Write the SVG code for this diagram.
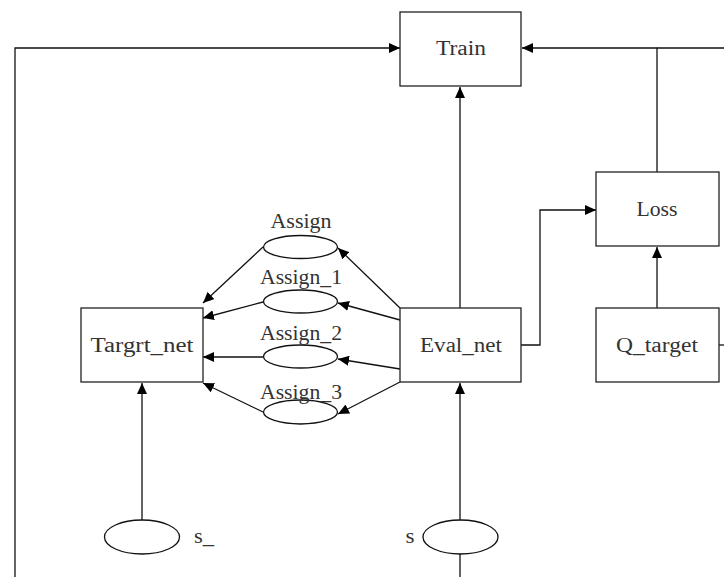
<svg xmlns="http://www.w3.org/2000/svg" width="724" height="577" viewBox="0 0 724 577">
  <style>
    .box { fill: #ffffff; stroke: #222222; stroke-width: 1.3; }
    .ell { fill: #ffffff; stroke: #111111; stroke-width: 1.3; }
    .wire { fill: none; stroke: #111111; stroke-width: 1.3; }
    .arr { marker-end: url(#head); }
    text { font-family: "Liberation Serif", "DejaVu Serif", serif; font-size: 20px; fill: #333333; text-anchor: middle; }
  </style>
  <defs>
    <marker id="head" markerUnits="userSpaceOnUse" markerWidth="12" markerHeight="10" refX="11" refY="5" orient="auto">
      <path d="M0,0 L11,5 L0,10 Z" fill="#000000"/>
    </marker>
  </defs>
  <rect width="724" height="577" fill="#ffffff"/>

  <g id="connectors">
    <path class="wire arr" d="M15,577 V48 H400"/>
    <path class="wire" d="M724,48 H657"/>
    <path class="wire arr" d="M657,172 V48 H522"/>
    <path class="wire arr" d="M460,308 V87"/>
    <path class="wire arr" d="M521,345 H540 V210 H596"/>
    <path class="wire arr" d="M657,308 V247"/>
    <path class="wire" d="M719,345 H724"/>
    <path class="wire arr" d="M142,520 V383"/>
    <path class="wire arr" d="M460,520 V383"/>
    <path class="wire" d="M460,554 V577"/>
    <path class="wire arr" d="M400,308 L338,248"/>
    <path class="wire arr" d="M400,320 L338,303"/>
    <path class="wire arr" d="M400,369 L338,359"/>
    <path class="wire arr" d="M400,382 L338,414"/>
    <path class="wire arr" d="M263,247 L203,303"/>
    <path class="wire arr" d="M263,302 L203,318"/>
    <path class="wire arr" d="M263,357 L203,357"/>
    <path class="wire arr" d="M263,412 L203,383"/>
  </g>

  <g id="train">
    <rect class="box" x="400" y="12" width="121" height="74"/>
    <text x="461" y="55" textLength="50" lengthAdjust="spacingAndGlyphs">Train</text>
  </g>
  <g id="loss">
    <rect class="box" x="596" y="172" width="123" height="74"/>
    <text x="657" y="216" textLength="41" lengthAdjust="spacingAndGlyphs">Loss</text>
  </g>
  <g id="q_target">
    <rect class="box" x="596" y="308" width="123" height="74"/>
    <text x="657" y="352" textLength="82" lengthAdjust="spacingAndGlyphs">Q_target</text>
  </g>
  <g id="eval_net">
    <rect class="box" x="400" y="308" width="121" height="74"/>
    <text x="461" y="352" textLength="82" lengthAdjust="spacingAndGlyphs">Eval_net</text>
  </g>
  <g id="targrt_net">
    <rect class="box" x="81" y="308" width="122" height="74"/>
    <text x="142" y="352" textLength="103" lengthAdjust="spacingAndGlyphs">Targrt_net</text>
  </g>

  <g id="assign">
    <ellipse class="ell" cx="300.5" cy="247" rx="37" ry="11.5"/>
    <text x="301" y="228" textLength="61" lengthAdjust="spacingAndGlyphs">Assign</text>
  </g>
  <g id="assign_1">
    <ellipse class="ell" cx="300.5" cy="301.5" rx="37" ry="11.5"/>
    <text x="301" y="284" textLength="82" lengthAdjust="spacingAndGlyphs">Assign_1</text>
  </g>
  <g id="assign_2">
    <ellipse class="ell" cx="300.5" cy="356.5" rx="37" ry="11.5"/>
    <text x="301" y="340" textLength="82" lengthAdjust="spacingAndGlyphs">Assign_2</text>
  </g>
  <g id="assign_3">
    <ellipse class="ell" cx="300.5" cy="412" rx="37" ry="12"/>
    <text x="301" y="399" textLength="82" lengthAdjust="spacingAndGlyphs">Assign_3</text>
  </g>

  <g id="s_next">
    <ellipse class="ell" cx="142" cy="537" rx="37.5" ry="17"/>
    <text x="204" y="543" textLength="20" lengthAdjust="spacingAndGlyphs">s_</text>
  </g>
  <g id="s">
    <ellipse class="ell" cx="460.5" cy="537" rx="37.5" ry="17"/>
    <text x="410" y="543" textLength="9" lengthAdjust="spacingAndGlyphs">s</text>
  </g>
</svg>
